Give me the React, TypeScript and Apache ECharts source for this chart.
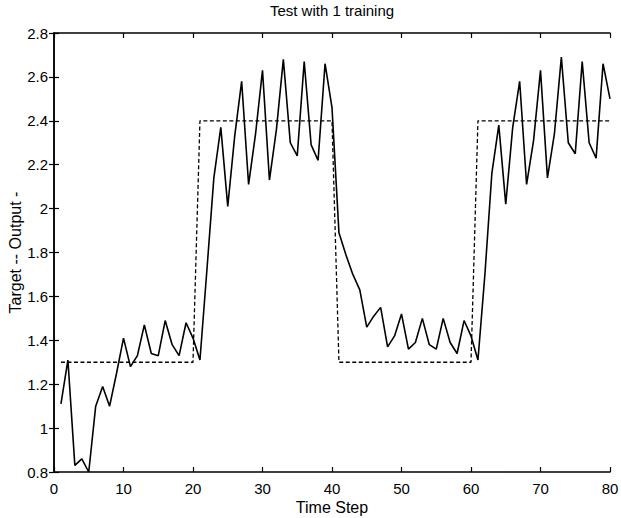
import React, { useEffect, useRef } from "react";
import * as echarts from "echarts";

const timeSteps = [
  1, 2, 3, 4, 5, 6, 7, 8, 9, 10, 11, 12, 13, 14, 15, 16, 17, 18, 19, 20,
  21, 22, 23, 24, 25, 26, 27, 28, 29, 30, 31, 32, 33, 34, 35, 36, 37, 38, 39, 40,
  41, 42, 43, 44, 45, 46, 47, 48, 49, 50, 51, 52, 53, 54, 55, 56, 57, 58, 59, 60,
  61, 62, 63, 64, 65, 66, 67, 68, 69, 70, 71, 72, 73, 74, 75, 76, 77, 78, 79, 80,
];

const targetValues = [
  1.3, 1.3, 1.3, 1.3, 1.3, 1.3, 1.3, 1.3, 1.3, 1.3, 1.3, 1.3, 1.3, 1.3, 1.3, 1.3, 1.3, 1.3, 1.3, 1.3,
  2.4, 2.4, 2.4, 2.4, 2.4, 2.4, 2.4, 2.4, 2.4, 2.4, 2.4, 2.4, 2.4, 2.4, 2.4, 2.4, 2.4, 2.4, 2.4, 2.4,
  1.3, 1.3, 1.3, 1.3, 1.3, 1.3, 1.3, 1.3, 1.3, 1.3, 1.3, 1.3, 1.3, 1.3, 1.3, 1.3, 1.3, 1.3, 1.3, 1.3,
  2.4, 2.4, 2.4, 2.4, 2.4, 2.4, 2.4, 2.4, 2.4, 2.4, 2.4, 2.4, 2.4, 2.4, 2.4, 2.4, 2.4, 2.4, 2.4, 2.4,
];

const outputValues = [
  1.11, 1.31, 0.83, 0.86, 0.8, 1.1, 1.19, 1.1, 1.25, 1.41,
  1.28, 1.33, 1.47, 1.34, 1.33, 1.49, 1.38, 1.33, 1.48, 1.41,
  1.31, 1.72, 2.14, 2.37, 2.01, 2.33, 2.58, 2.11, 2.34, 2.63,
  2.13, 2.36, 2.68, 2.3, 2.24, 2.67, 2.29, 2.22, 2.66, 2.46,
  1.89, 1.79, 1.7, 1.63, 1.46, 1.51, 1.55, 1.37, 1.42, 1.52,
  1.36, 1.39, 1.5, 1.38, 1.36, 1.5, 1.39, 1.34, 1.49, 1.42,
  1.31, 1.7, 2.16, 2.38, 2.02, 2.37, 2.58, 2.11, 2.31, 2.63,
  2.14, 2.34, 2.69, 2.3, 2.25, 2.67, 2.3, 2.23, 2.66, 2.5,
];

const FONT = "'Liberation Sans', Arial, Helvetica, sans-serif";

export default function App() {
  const ref = useRef<HTMLDivElement>(null);

  useEffect(() => {
    if (!ref.current) return;
    const chart = echarts.init(ref.current, undefined, { renderer: "svg" });

    const axisLine = { show: true, lineStyle: { color: "#000", width: 1.5 } };
    const tick = { show: true, inside: true, length: 5, lineStyle: { color: "#000", width: 1.2 } };
    const label = { color: "#000", fontSize: 15, fontFamily: FONT };

    const option = {
      animation: false,
      backgroundColor: "#fff",
      title: {
        text: "Test with 1 training",
        left: 332,
        top: 3,
        padding: 0,
        textAlign: "center",
        textStyle: { color: "#000", fontSize: 15, fontWeight: "normal", fontFamily: FONT },
      },
      grid: { left: 54, right: 11, top: 33, bottom: 46, containLabel: false, outerBoundsMode: "none" },
      xAxis: [
        {
          type: "value",
          position: "bottom",
          min: 0,
          max: 80,
          interval: 10,
          axisLine,
          axisTick: tick,
          axisLabel: { ...label, margin: 9 },
          splitLine: { show: false },
          name: "Time Step",
          nameLocation: "middle",
          nameGap: 27,
          nameMoveOverlap: false,
          nameTextStyle: { color: "#000", fontSize: 16, fontFamily: FONT },
        },
        {
          type: "value",
          position: "top",
          min: 0,
          max: 80,
          interval: 10,
          axisLine,
          axisTick: tick,
          axisLabel: { show: false },
          splitLine: { show: false },
        },
      ],
      yAxis: [
        {
          type: "value",
          position: "left",
          min: 0.8,
          max: 2.8,
          interval: 0.2,
          axisLine,
          axisTick: tick,
          axisLabel: { ...label, margin: 6 },
          splitLine: { show: false },
          name: "Target -- Output -",
          nameLocation: "middle",
          nameGap: 31,
          nameRotate: 90,
          nameMoveOverlap: false,
          nameTextStyle: { color: "#000", fontSize: 16, fontFamily: FONT },
        },
        {
          type: "value",
          position: "right",
          min: 0.8,
          max: 2.8,
          interval: 0.2,
          axisLine,
          axisTick: tick,
          axisLabel: { show: false },
          splitLine: { show: false },
        },
      ],
      series: [
        {
          name: "Target",
          type: "line",
          xAxisIndex: 0,
          yAxisIndex: 0,
          data: timeSteps.map((t, i) => [t, targetValues[i]]),
          showSymbol: false,
          lineStyle: { color: "#000", width: 1.3, type: [4, 2.5] },
          z: 2,
        },
        {
          name: "Output",
          type: "line",
          xAxisIndex: 0,
          yAxisIndex: 0,
          data: timeSteps.map((t, i) => [t, outputValues[i]]),
          showSymbol: false,
          lineStyle: { color: "#000", width: 1.6 },
          z: 3,
        },
      ],
    };

    chart.setOption(option as any);
    return () => chart.dispose();
  }, []);

  return (
    <div
      ref={ref}
      style={{ position: "absolute", left: 0, top: 0, width: 621, height: 518, background: "#fff" }}
    />
  );
}
